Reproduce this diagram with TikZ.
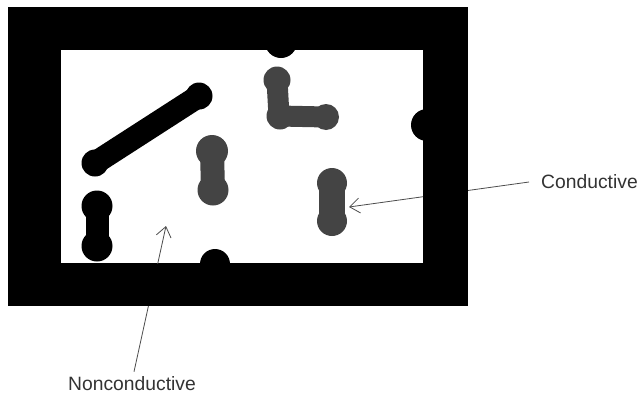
\documentclass[tikz,border=0pt]{standalone}
\usepackage{fontspec}
\setmainfont{Liberation Sans}
\usetikzlibrary{arrows.meta}
\definecolor{cond}{HTML}{444444}
\tikzset{
  frame/.style={fill=black},
  hole/.style={fill=white},
  blackbar/.style={draw=black, line cap=round},
  greybar/.style={draw=cond, line cap=round},
  lbl/.style={font=\fontsize{19.3}{21}\selectfont, text=black!80, inner sep=0pt},
  pointer/.style={draw=black!70, line width=0.8pt, -{Straight Barb[length=10pt,width=15pt,line width=0.8pt]}}
}
\begin{document}
\begin{tikzpicture}[x=1pt,y=-1pt]
\useasboundingbox (0,0) rectangle (641,394);
% labels
\node[lbl, anchor=west] (cl) at (541,182) {Conductive};
\node[lbl] (nl) at (132,384) {Nonconductive};
\coordinate (ctip) at (349,207);
\coordinate (ntip) at (166,226);
\draw[pointer] (cl.west) ++(-12,0) -- (ctip);
\draw[pointer] (nl.north) ++(2,-5) -- (ntip);
% frame
\fill[frame] (8,7) rectangle (468,306);
\fill[hole] (61,50) rectangle (423,263);
% visible parts of pointers inside the opening
\begin{scope}
\clip (61,50) rectangle (423,263);
\draw[pointer] (cl.west) ++(-12,0) -- (ctip);
\draw[pointer] (nl.north) ++(2,-5) -- (ntip);
\end{scope}
% bumps on the frame
\fill[black] (281,42) circle (16);
\fill[black] (427,125) circle (16);
\fill[black] (215,264) circle (15);
% black diagonal bar
\draw[blackbar, line width=23] (95,163) -- (199,96);
\fill[black] (95,163) circle (13.5);
\fill[black] (199,96) circle (13.5);
% black lower-left dumbbell
\draw[blackbar, line width=23] (97,206) -- (97,246);
\fill[black] (97,206) circle (15.5);
\fill[black] (97,246) circle (15.5);
% grey middle dumbbell
\draw[greybar, line width=24] (212,151) -- (213,190);
\fill[cond] (212,151) circle (16);
\fill[cond] (213,190) circle (15.5);
% grey L shape
\draw[greybar, line width=21, line join=round] (277,80) -- (279,116) -- (326,117);
\fill[cond] (277,80) circle (13.5);
\fill[cond] (280,116) circle (13.5);
\fill[cond] (326,117) circle (13);
% grey right dumbbell
\draw[greybar, line width=26] (332,183) -- (332,221);
\fill[cond] (332,183) circle (15);
\fill[cond] (332,221) circle (15);
\end{tikzpicture}
\end{document}
